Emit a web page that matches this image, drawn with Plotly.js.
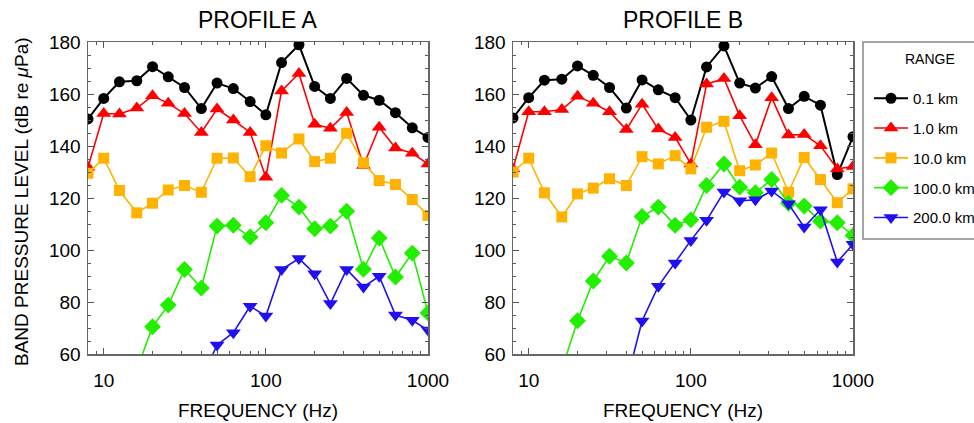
<!DOCTYPE html>
<html>
<head>
<meta charset="utf-8">
<script src="https://cdn.plot.ly/plotly-3.0.1.min.js"></script>
<style>html,body{margin:0;padding:0;background:#fff;}#chart{width:974px;height:423px;}</style>
</head>
<body>
<div id="chart"></div>
<script>
// 1/3-octave band centre frequencies (Hz)
var freqs = [8,10,12.5,16,20,25,31.5,40,50,63,80,100,125,160,200,250,315,400,500,630,800,1000];

var rangeNames = ['0.1 km','1.0 km','10.0 km','100.0 km','200.0 km'];

// PROFILE A band levels (dB re uPa)
var a_01km  = [150.4,158.3,164.7,165.1,170.5,166.6,162.5,154.4,164.2,162.1,157.1,152.0,172.1,178.9,162.9,158.3,166.0,159.5,157.6,152.8,147.0,143.3];
var a_1km   = [131.8,152.5,152.3,154.6,159.3,156.4,152.5,145.2,154.2,150.0,145.2,128.0,161.2,167.9,148.4,146.8,152.9,132.5,147.2,139.2,137.2,133.1];
var a_10km  = [129.5,135.3,122.9,114.3,118.0,123.1,124.8,122.2,135.3,135.4,128.2,140.1,137.3,142.7,134.0,135.3,144.9,133.5,126.7,125.2,119.4,113.3];
var a_100km = [null,null,null,54.0,70.5,78.8,92.5,85.4,109.2,109.5,105.0,110.5,121.0,116.5,108.2,109.2,114.9,92.6,104.6,89.6,98.8,75.8];
var a_200km = [null,null,null,null,null,null,null,50.0,63.5,68.2,78.4,74.6,92.5,96.7,90.9,79.4,92.5,85.8,89.9,75.0,73.0,69.2];

// PROFILE B band levels (dB re uPa)
var b_01km  = [150.8,158.6,165.3,165.7,170.8,167.2,162.5,154.6,165.4,161.6,158.6,150.0,170.4,178.5,164.2,162.3,166.7,154.4,159.1,155.7,129.0,143.6];
var b_1km   = [131.2,153.2,153.2,154.0,159.1,156.4,153.2,146.3,156.1,146.5,143.3,133.1,163.8,166.0,151.6,140.5,158.6,144.2,144.4,140.1,131.2,132.1];
var b_10km  = [130.0,135.3,122.0,112.7,121.6,123.8,127.4,124.8,135.9,133.1,136.3,131.2,147.2,149.5,130.5,132.7,137.3,122.2,135.6,127.1,118.2,123.5];
var b_100km = [null,null,null,54.0,72.8,88.1,97.6,95.0,112.9,116.5,109.5,111.6,124.8,133.1,124.2,122.0,127.1,118.0,116.9,111.1,110.5,105.6];
var b_200km = [null,null,null,null,null,null,null,49.0,72.7,86.1,95.0,103.7,111.4,122.3,118.9,119.3,122.7,117.8,108.8,115.5,95.4,102.2];

var xTickVals = [10,100,1000];
var xTickText = ['10','100','1000'];

var colors  = ['#000000','#ff0000','#ffb300','#22ee00','#2010f0'];
var symbols = ['circle','triangle-up','square','diamond','triangle-down'];
var msizes  = [11,13,11,13,13];
var lwidths = [2,1.6,1.6,1.6,1.6];

var seriesA = [a_01km,a_1km,a_10km,a_100km,a_200km];
var seriesB = [b_01km,b_1km,b_10km,b_100km,b_200km];

var traces = [];
function addPanel(series, xa, ya, showLeg){
  for (var i=0;i<series.length;i++){
    traces.push({
      x: freqs, y: series[i], xaxis: xa, yaxis: ya,
      type:'scatter', mode:'lines+markers', name: rangeNames[i],
      legendgroup: 'g'+i, showlegend: showLeg, connectgaps:false,
      line:{color:colors[i], width:lwidths[i]},
      marker:{color:colors[i], symbol:symbols[i], size:msizes[i], line:{width:0}}
    });
  }
}
addPanel(seriesA,'x','y',true);
addPanel(seriesB,'x2','y2',false);

var W=974, H=423;
function axX(l,r){
  return {
    domain:[l/W, r/W], type:'log', range:[Math.log10(8),3],
    tickmode:'array', tickvals:xTickVals, ticktext:xTickText,
    ticks:'inside', ticklen:6, tickwidth:1, tickcolor:'#555',
    minor:{dtick:'D1', ticks:'inside', ticklen:3, tickwidth:1, tickcolor:'#555'},
    showline:true, linecolor:'#666', linewidth:1.5, mirror:'allticks',
    showgrid:false, zeroline:false, fixedrange:true,
    ticklabelstandoff:9,
    tickfont:{family:'Liberation Sans, Arial, sans-serif', size:19, color:'#000'}
  };
}
function axY(anchor){
  return {
    domain:[(H-354)/H, (H-42)/H], range:[60,180], anchor:anchor,
    dtick:20, tick0:60,
    ticks:'inside', ticklen:6, tickwidth:1, tickcolor:'#555',
    minor:{dtick:5, ticks:'inside', ticklen:3, tickwidth:1, tickcolor:'#555'},
    showline:true, linecolor:'#666', linewidth:1.5, mirror:'allticks',
    showgrid:false, zeroline:false, fixedrange:true,
    ticklabelstandoff:2,
    tickfont:{family:'Liberation Sans, Arial, sans-serif', size:19, color:'#000'}
  };
}

var xa = axX(88,428); xa.anchor='y';
var xb = axX(513,853); xb.anchor='y2';

var font = 'Liberation Sans, Arial, sans-serif';
var layout = {
  width:W, height:H,
  margin:{l:0,r:0,t:0,b:0, autoexpand:false},
  paper_bgcolor:'#fff', plot_bgcolor:'#fff',
  font:{family:font, color:'#000'},
  xaxis: xa, yaxis: axY('x'),
  xaxis2: xb, yaxis2: axY('x2'),
  showlegend:true,
  legend:{
    x:869/W, xanchor:'left', y:(H-82)/H, yanchor:'top',
    borderwidth:0, bgcolor:'rgba(0,0,0,0)',
    font:{family:font, size:15, color:'#000'},
    tracegroupgap:7.3, itemwidth:34
  },
  shapes:[
    {type:'rect', xref:'paper', yref:'paper', x0:863/W, x1:990/W, y0:1-239/H, y1:1-42/H,
     line:{color:'#888', width:1.5}, fillcolor:'rgba(0,0,0,0)', layer:'below'}
  ],
  annotations:[
    {text:'RANGE', x:930/W, y:1-59/H, xref:'paper', yref:'paper', showarrow:false, xanchor:'center', yanchor:'middle', font:{family:font, size:14}},
    {text:'PROFILE A', x:258/W, y:1-20/H, xref:'paper', yref:'paper', showarrow:false, xanchor:'center', yanchor:'middle', font:{family:font, size:23}},
    {text:'PROFILE B', x:683/W, y:1-20/H, xref:'paper', yref:'paper', showarrow:false, xanchor:'center', yanchor:'middle', font:{family:font, size:23}},
    {text:'FREQUENCY (Hz)', x:258/W, y:1-410/H, xref:'paper', yref:'paper', showarrow:false, xanchor:'center', yanchor:'middle', font:{family:font, size:19}},
    {text:'FREQUENCY (Hz)', x:683/W, y:1-410/H, xref:'paper', yref:'paper', showarrow:false, xanchor:'center', yanchor:'middle', font:{family:font, size:19}},
    {text:'BAND PRESSURE LEVEL (dB re <i>μ</i>Pa)', x:21/W, y:1-202/H, xref:'paper', yref:'paper', showarrow:false, textangle:-90, xanchor:'center', yanchor:'middle', font:{family:font, size:19}}
  ]
};

Plotly.newPlot('chart', traces, layout, {displayModeBar:false, staticPlot:true});
</script>
</body>
</html>
